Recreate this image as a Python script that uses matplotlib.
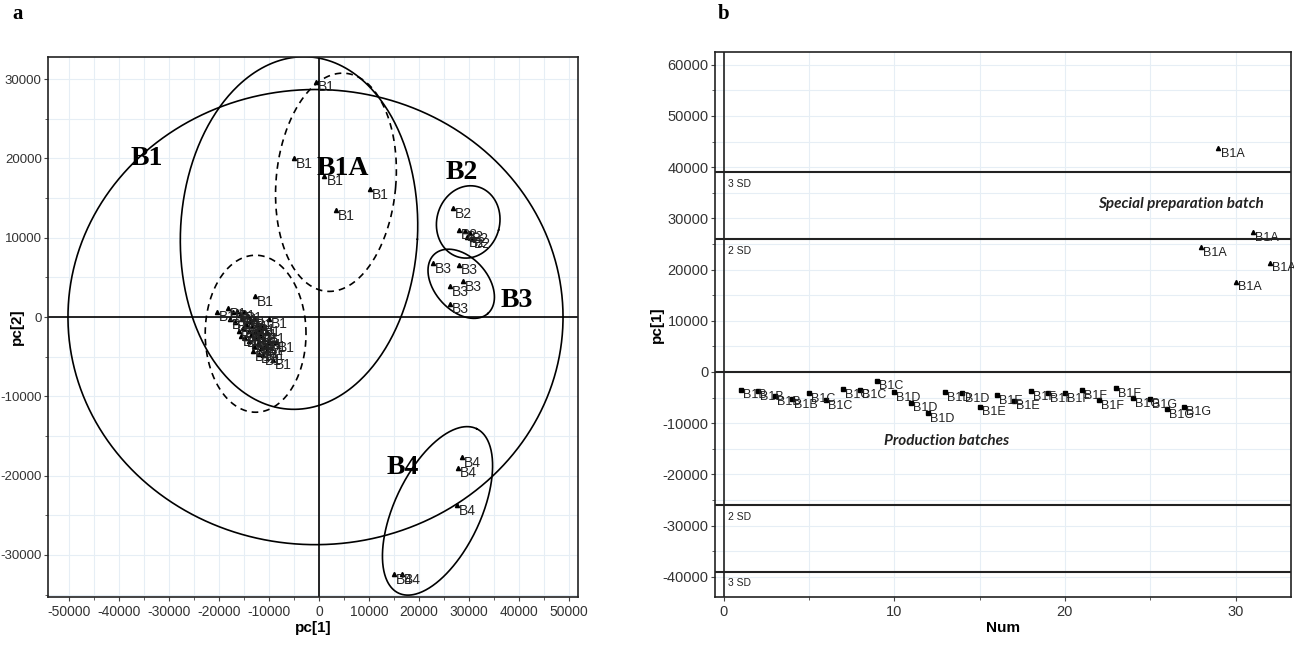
import matplotlib
matplotlib.use('Agg')
import matplotlib.pyplot as plt
import numpy as np
from matplotlib.ticker import MultipleLocator

# ---- panel a: PCA scores pc[1] vs pc[2] ----
b1a_x = [-600, -5100, 1100, 10200, 3400]
b1a_y = [29700, 20000, 17800, 16100, 13500]

b1_x = [-20500, -18200, -17200, -16500, -15800, -17800, -16800, -15500, -15000,
        -14600, -14200, -13800, -15200, -14000, -13400, -13000, -12800, -12400,
        -12000, -13600, -12600, -11800, -11400, -11000, -12200, -13000, -11600,
        -10800, -10500, -10200, -14800, -14000, -13200, -12000, -11200, -16000,
        -15600, -12800, -10000, -8600, -9200, -10400]
b1_y = [700, 1100, 600, 800, 300, -300, -600, -200, 600,
        -900, 100, -500, -1400, -1700, -1100, -300, -1900, -900,
        -1500, -2300, -2700, -2200, -1200, -2800, -3300, -3600, -3900,
        -3600, -2000, -3100, -2600, -3000, -4300, -4600, -4800, -1800,
        -2400, 2600, -200, -3200, -5400, -4200]

b2_x = [26800, 28100, 29300, 30300, 29600, 30600]
b2_y = [13700, 11000, 10800, 10600, 10100, 9900]

b3_x = [22800, 28100, 28800, 26300, 26300]
b3_y = [6800, 6600, 4500, 3900, 1700]

b4_x = [28600, 27900, 27600, 15000, 16600]
b4_y = [-17700, -19000, -23700, -32400, -32400]

# ---- panel b: pc[1] vs batch number ----
prod_num = list(range(1, 28))
prod_pc1 = [-3500, -3800, -4700, -5300, -4200, -5500, -3400, -3500, -1700,
            -4000, -6000, -8100, -4000, -4200, -6800, -4500, -5600, -3800,
            -4200, -4200, -3600, -5500, -3200, -5100, -5300, -7300, -6800]
prod_lab = (['B1B'] * 4 + ['B1C'] * 5 + ['B1D'] * 5 + ['B1E'] * 3
            + ['B1F'] * 6 + ['B1G'] * 4)

spec_num = [28, 29, 30, 31, 32]
spec_pc1 = [24400, 43700, 17600, 27300, 21300]

sd2, sd3 = 26000, 39000

GRID = '#e6eef5'
TICKC = '#333333'

plt.rcParams['font.family'] = ['Liberation Sans', 'DejaVu Sans']
plt.rcParams['axes.unicode_minus'] = False

fig = plt.figure(figsize=(12.94, 6.46), dpi=100)
W, H = 1294, 646
ax1 = fig.add_axes([48 / W, 49 / H, 530 / W, 540 / H])
ax2 = fig.add_axes([715 / W, 49 / H, 576 / W, 545 / H])


def draw_ellipse(ax, cx, cy, w, h, angle, **kw):
    """Ellipse given in data units, rotated in screen space."""
    x0, x1 = ax.get_xlim()
    y0, y1 = ax.get_ylim()
    bb = ax.get_position()
    fw, fh = fig.get_size_inches() * fig.dpi
    kx = fw * bb.width / (x1 - x0)
    ky = fh * bb.height / (y1 - y0)
    t = np.linspace(0, 2 * np.pi, 400)
    u = w / 2 * kx * np.cos(t)
    v = h / 2 * ky * np.sin(t)
    a = np.deg2rad(angle)
    ur = u * np.cos(a) - v * np.sin(a)
    vr = u * np.sin(a) + v * np.cos(a)
    ax.plot(cx + ur / kx, cy + vr / ky, color='black', lw=1.2, **kw)


def label_points(ax, xs, ys, labels, marker, ms, fs):
    ax.plot(xs, ys, ls='none', marker=marker, color='black', ms=ms)
    for x, y, s in zip(xs, ys, labels):
        ax.annotate(s, (x, y), xytext=(1.5, -4), textcoords='offset points',
                    ha='left', va='center', fontsize=fs, color='#222222')


def style_axes(ax):
    ax.grid(True, which='minor', color=GRID, lw=0.8)
    ax.grid(True, which='major', color=GRID, lw=0.8)
    ax.set_axisbelow(True)
    for sp in ax.spines.values():
        sp.set_linewidth(1.2)
        sp.set_color('#222222')
    ax.tick_params(which='both', direction='out', color='#444444',
                   labelsize=9.5, labelcolor=TICKC, pad=1.5)
    ax.tick_params(which='major', length=3)
    ax.tick_params(which='minor', length=2.5)


# ---------------- panel a ----------------
ax1.set_xlim(-54300, 51900)
ax1.set_ylim(-35300, 32800)
ax1.xaxis.set_major_locator(MultipleLocator(10000))
ax1.xaxis.set_minor_locator(MultipleLocator(5000))
ax1.yaxis.set_major_locator(MultipleLocator(10000))
ax1.yaxis.set_minor_locator(MultipleLocator(5000))
style_axes(ax1)
ax1.tick_params(axis='x', labelsize=10, pad=3)
ax1.axhline(0, color='black', lw=1.2)
ax1.axvline(0, color='black', lw=1.2)

draw_ellipse(ax1, -700, 0, 99200, 57400, 0)
draw_ellipse(ax1, -4000, 10600, 47500, 44500, -3)
draw_ellipse(ax1, 3400, 17000, 24000, 27600, -5, ls=(0, (4, 3)))
draw_ellipse(ax1, -12700, -2100, 20200, 19800, 0, ls=(0, (4, 3)))
draw_ellipse(ax1, 29900, 12000, 12600, 9200, -15)
draw_ellipse(ax1, 28500, 4200, 16000, 6700, -48)
draw_ellipse(ax1, 23750, -24440, 36470, 10850, 64.6)

label_points(ax1, b1_x, b1_y, ['B1'] * len(b1_x), '^', 3, 10)
label_points(ax1, b1a_x, b1a_y, ['B1'] * len(b1a_x), '^', 3, 10)
label_points(ax1, b2_x, b2_y, ['B2'] * len(b2_x), '^', 3, 10)
label_points(ax1, b3_x, b3_y, ['B3'] * len(b3_x), '^', 3, 10)
label_points(ax1, b4_x, b4_y, ['B4'] * len(b4_x), '^', 3, 10)

grp_font = dict(family=['Liberation Serif', 'DejaVu Serif'], fontweight='bold',
                fontsize=20, ha='center', va='center')
ax1.text(-34500, 20000, 'B1', **grp_font)
ax1.text(4800, 18800, 'B1A', **grp_font)
ax1.text(28700, 18200, 'B2', **grp_font)
ax1.text(39700, 2100, 'B3', **grp_font)
ax1.text(16800, -19000, 'B4', **grp_font)

ax1.set_xlabel('pc[1]', fontsize=11, fontweight='bold', labelpad=1)
ax1.set_ylabel('pc[2]', fontsize=11, fontweight='bold')
ax1.yaxis.set_label_coords(-0.045, 0.5)

# ---------------- panel b ----------------
ax2.set_xlim(-0.5, 33.25)
ax2.set_ylim(-43950, 62500)
ax2.xaxis.set_major_locator(MultipleLocator(10))
ax2.xaxis.set_minor_locator(MultipleLocator(5))
ax2.yaxis.set_major_locator(MultipleLocator(10000))
ax2.yaxis.set_minor_locator(MultipleLocator(5000))
style_axes(ax2)
ax2.tick_params(axis='y', labelsize=10.5)
ax2.tick_params(axis='x', labelsize=10.5, pad=3)
ax2.axvline(0, color='#222222', lw=1.2)
for yv in (0, sd2, -sd2, sd3, -sd3):
    ax2.axhline(yv, color='#222222', lw=1.5)
for yv, s in ((sd3, '3 SD'), (sd2, '2 SD'), (-sd2, '2 SD'), (-sd3, '3 SD')):
    ax2.text(0.25, yv - 1300, s, fontsize=7.5, ha='left', va='top', color='#222222')

label_points(ax2, prod_num, prod_pc1, prod_lab, 's', 2.5, 9)
label_points(ax2, spec_num, spec_pc1, ['B1A'] * len(spec_num), '^', 3, 9)

note = dict(family=['Lato', 'DejaVu Sans'], fontweight='bold', style='italic',
            fontsize=11, ha='center', va='center', color='#222222')
ax2.text(26.8, 32800, 'Special preparation batch', **note)
ax2.text(13.05, -13500, 'Production batches', **note)

ax2.set_xlabel('Num', fontsize=11, fontweight='bold', labelpad=1)
ax2.set_ylabel('pc[1]', fontsize=11, fontweight='bold')
ax2.yaxis.set_label_coords(-0.088, 0.5)

panel_font = dict(family=['Liberation Serif', 'DejaVu Serif'], fontweight='bold',
                  fontsize=15, va='center', ha='left')
fig.text(12 / W, 1 - 14 / H, 'a', **panel_font)
fig.text(718 / W, 1 - 14 / H, 'b', **panel_font)

fig.savefig('out.png', dpi=100)
